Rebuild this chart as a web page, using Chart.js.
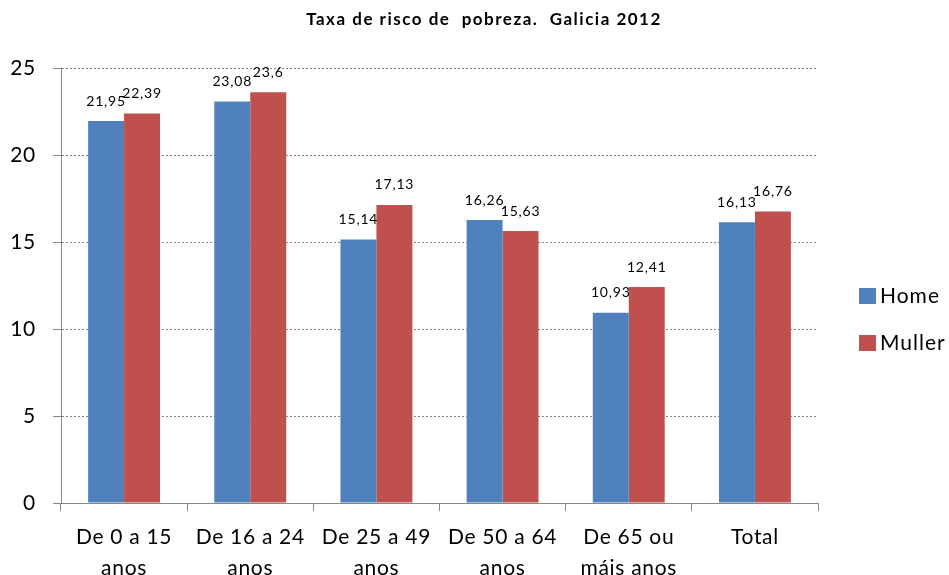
<!DOCTYPE html>
<html><head><meta charset="utf-8">
<script src="https://cdn.jsdelivr.net/npm/chart.js@4/dist/chart.umd.min.js"></script>
<style>html,body{margin:0;padding:0;background:#fff}#wrap{width:949px;height:575px}</style>
</head><body><div id="wrap"><canvas id="c" width="949" height="575"></canvas></div>
<script>
const categories = [["De 0 a 15","anos"],["De 16 a 24","anos"],["De 25 a 49","anos"],["De 50 a 64","anos"],["De 65 ou","máis anos"],["Total"]];
const homeValues = [21.95, 23.08, 15.14, 16.26, 10.93, 16.13];
const mullerValues = [22.39, 23.6, 17.13, 15.63, 12.41, 16.76];
const seriesNames = ["Home","Muller"];
const titleText = "Taxa de risco de  pobreza.  Galicia 2012";
const colors = ["#4F81BD","#C0504D"];
const FONT = "Lato, 'Open Sans', sans-serif";

const spacingPlugin = {
  id:'spacing',
  beforeLayout(chart){ chart.ctx.letterSpacing = "0.7px"; },
  beforeDraw(chart){ chart.ctx.letterSpacing = "0.7px"; }
};
const labelPlugin = {
  id:'vals',
  afterDatasetsDraw(chart){
    const ctx = chart.ctx;
    ctx.save();
    ctx.letterSpacing = "0.8px";
    ctx.font = "14px " + FONT;
    ctx.fillStyle = "#000";
    ctx.textAlign = "center";
    ctx.textBaseline = "middle";
    chart.data.datasets.forEach((ds,i)=>{
      chart.getDatasetMeta(i).data.forEach((el,j)=>{
        ctx.fillText(String(ds.data[j]).replace('.',','), el.x, el.y - 20);
      });
    });
    ctx.restore();
  }
};
const legendPlugin = {
  id:'leg',
  afterDraw(chart){
    const ctx = chart.ctx;
    ctx.save();
    ctx.letterSpacing = "1px";
    ctx.font = "21px " + FONT;
    ctx.textBaseline = "middle";
    ctx.textAlign = "left";
    seriesNames.forEach((n,i)=>{
      const y = 296 + i*47;
      ctx.fillStyle = colors[i];
      ctx.fillRect(859, y-8, 17, 16);
      ctx.fillStyle = "#000";
      ctx.fillText(n, 880, y);
    });
    ctx.restore();
  }
};
const titlePlugin = {
  id:'ttl',
  afterDraw(chart){
    const ctx = chart.ctx;
    ctx.save();
    ctx.letterSpacing = "1.5px";
    ctx.font = "bold 17px " + FONT;
    ctx.fillStyle = "#000";
    ctx.textAlign = "center";
    ctx.textBaseline = "middle";
    ctx.fillText(titleText, 484, 20);
    ctx.restore();
  }
};

new Chart(document.getElementById('c'), {
  type:'bar',
  data:{
    labels: categories,
    datasets:[
      {label:seriesNames[0], data:homeValues, backgroundColor:colors[0], categoryPercentage:0.57, barPercentage:1},
      {label:seriesNames[1], data:mullerValues, backgroundColor:colors[1], categoryPercentage:0.57, barPercentage:1}
    ]
  },
  options:{
    responsive:false, animation:false, devicePixelRatio:1,
    layout:{padding:{top:68, right:131, left:0, bottom:0}},
    plugins:{legend:{display:false}, title:{display:false}, tooltip:{enabled:false}},
    scales:{
      x:{
        grid:{display:true, drawOnChartArea:false, drawTicks:true, tickLength:8, color:'#868686', offset:true},
        border:{display:true, color:'#868686', width:1},
        ticks:{color:'#000', font:{family:FONT, size:21, lineHeight:1.48}, padding:11, maxRotation:0, autoSkip:false},
        afterFit(s){ s.height = 72; }
      },
      y:{
        min:0, max:25,
        grid:{color:'#868686', tickBorderDash:[], tickColor:'#868686', tickLength:8, drawTicks:true},
        border:{display:true, color:'#868686', width:1, dash:[2,2]},
        ticks:{stepSize:5, color:'#000', font:{family:FONT, size:21}, padding:17},
        afterFit(s){ s.width = 61; }
      }
    }
  },
  plugins:[spacingPlugin, labelPlugin, legendPlugin, titlePlugin]
});
</script>
</body></html>
